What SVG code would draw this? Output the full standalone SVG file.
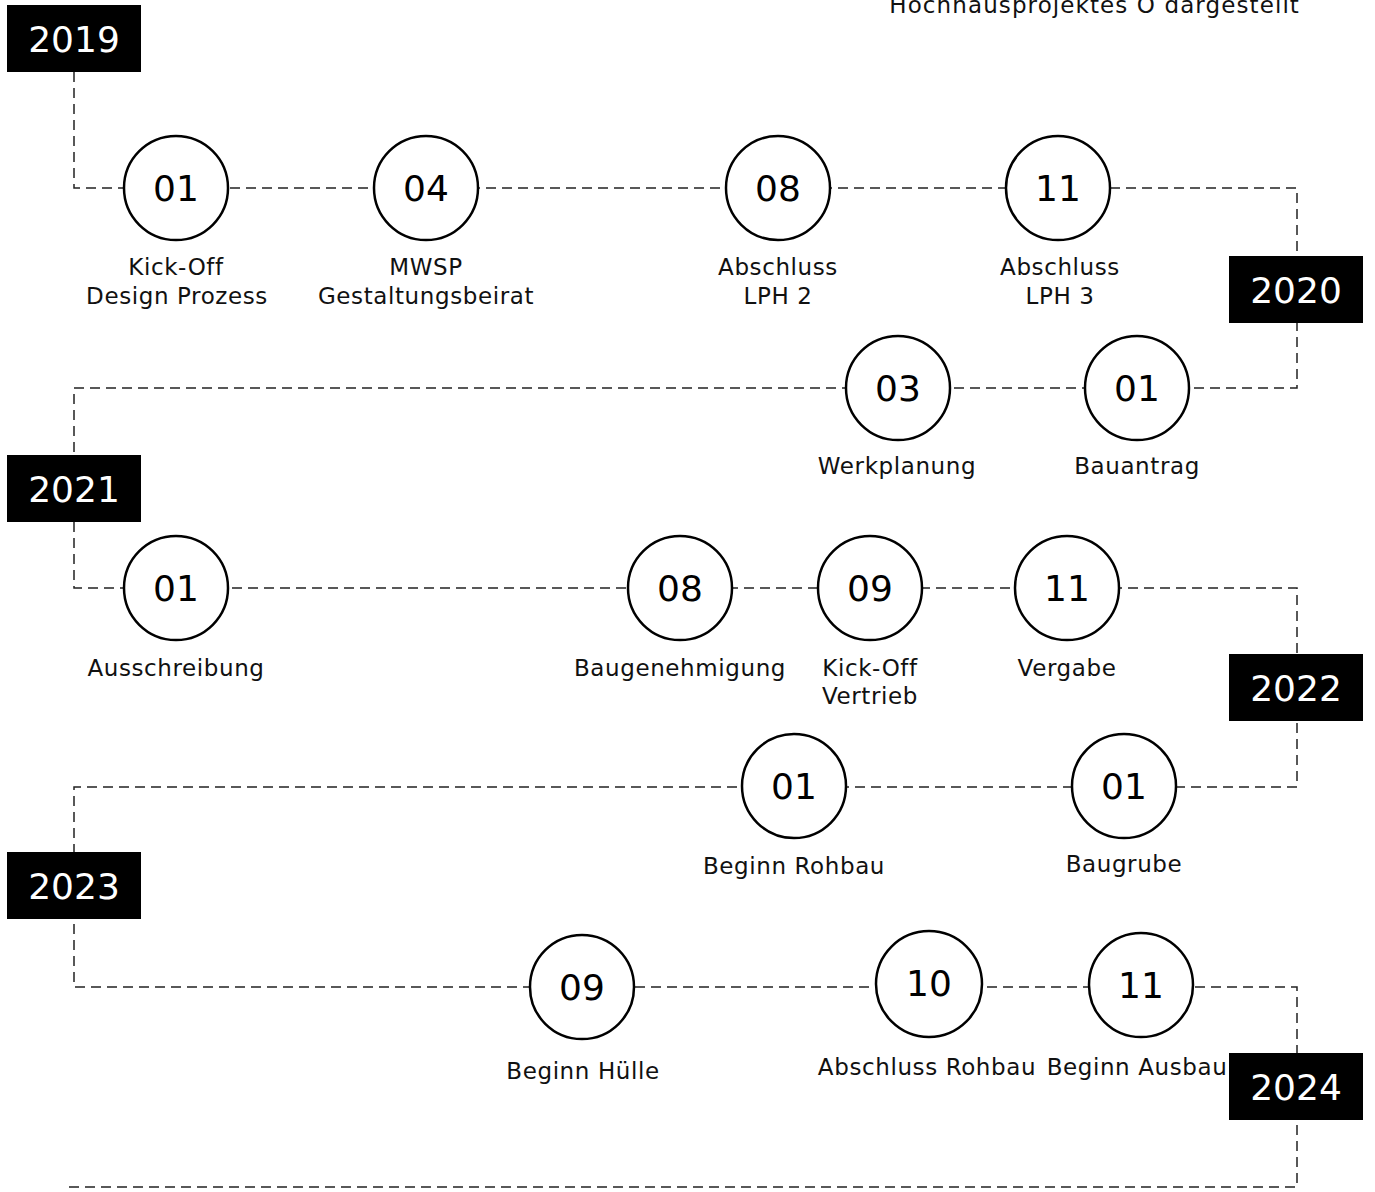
<svg xmlns="http://www.w3.org/2000/svg" width="1375" height="1192" viewBox="0 0 1375 1192">
<style>
.conn{fill:none;stroke:#222;stroke-width:1.5;stroke-dasharray:10 6}
.yr rect{fill:#000}
.yr text{fill:#fff;font-family:"DejaVu Sans",Verdana,sans-serif;font-size:36px;text-anchor:middle}
.ev circle{fill:#fff;stroke:#000;stroke-width:2.5}
.num{fill:#000;font-family:"DejaVu Sans",Verdana,sans-serif;font-size:36px;text-anchor:middle}
.lbl{fill:#111;font-family:"DejaVu Sans",Verdana,sans-serif;font-size:23px;letter-spacing:0.6px;text-anchor:middle}
</style>
<rect width="1375" height="1192" fill="#fff"/>
<text class="lbl" x="1300" y="13" style="text-anchor:end;letter-spacing:1.1px">Hochhausprojektes O dargestellt</text>
<g id="connectors">
<path class="conn" d="M74 72 V188 H1297 V388 H74 V588 H1297 V787 H74 V987 H1297 V1187 H68"/>
</g>
<g id="y2019" class="yr"><rect x="7" y="5" width="134" height="67"/><text x="74" y="52">2019</text></g>
<g id="y2020" class="yr"><rect x="1229" y="256" width="134" height="67"/><text x="1296" y="303">2020</text></g>
<g id="y2021" class="yr"><rect x="7" y="455" width="134" height="67"/><text x="74" y="502">2021</text></g>
<g id="y2022" class="yr"><rect x="1229" y="654" width="134" height="67"/><text x="1296" y="701">2022</text></g>
<g id="y2023" class="yr"><rect x="7" y="852" width="134" height="67"/><text x="74" y="899">2023</text></g>
<g id="y2024" class="yr"><rect x="1229" y="1053" width="134" height="67"/><text x="1296" y="1100">2024</text></g>

<g id="e2019-01" class="ev"><circle cx="176" cy="188" r="52"/><text class="num" x="176" y="201">01</text><text class="lbl" x="176" y="275">Kick-Off</text><text class="lbl" x="177" y="304">Design Prozess</text></g>
<g id="e2019-04" class="ev"><circle cx="426" cy="188" r="52"/><text class="num" x="426" y="201">04</text><text class="lbl" x="426" y="275">MWSP</text><text class="lbl" x="426" y="304">Gestaltungsbeirat</text></g>
<g id="e2019-08" class="ev"><circle cx="778" cy="188" r="52"/><text class="num" x="778" y="201">08</text><text class="lbl" x="778" y="275">Abschluss</text><text class="lbl" x="778" y="304">LPH 2</text></g>
<g id="e2019-11" class="ev"><circle cx="1058" cy="188" r="52"/><text class="num" x="1058" y="201">11</text><text class="lbl" x="1060" y="275">Abschluss</text><text class="lbl" x="1060" y="304">LPH 3</text></g>

<g id="e2020-03" class="ev"><circle cx="898" cy="388" r="52"/><text class="num" x="898" y="401">03</text><text class="lbl" x="897" y="474">Werkplanung</text></g>
<g id="e2020-01" class="ev"><circle cx="1137" cy="388" r="52"/><text class="num" x="1137" y="401">01</text><text class="lbl" x="1137" y="474">Bauantrag</text></g>

<g id="e2021-01" class="ev"><circle cx="176" cy="588" r="52"/><text class="num" x="176" y="601">01</text><text class="lbl" x="176" y="676">Ausschreibung</text></g>
<g id="e2021-08" class="ev"><circle cx="680" cy="588" r="52"/><text class="num" x="680" y="601">08</text><text class="lbl" x="680" y="676">Baugenehmigung</text></g>
<g id="e2021-09" class="ev"><circle cx="870" cy="588" r="52"/><text class="num" x="870" y="601">09</text><text class="lbl" x="870" y="676">Kick-Off</text><text class="lbl" x="870" y="704">Vertrieb</text></g>
<g id="e2021-11" class="ev"><circle cx="1067" cy="588" r="52"/><text class="num" x="1067" y="601">11</text><text class="lbl" x="1067" y="676">Vergabe</text></g>

<g id="e2022-01a" class="ev"><circle cx="794" cy="786" r="52"/><text class="num" x="794" y="799">01</text><text class="lbl" x="794" y="874">Beginn Rohbau</text></g>
<g id="e2022-01b" class="ev"><circle cx="1124" cy="786" r="52"/><text class="num" x="1124" y="799">01</text><text class="lbl" x="1124" y="872">Baugrube</text></g>

<g id="e2023-09" class="ev"><circle cx="582" cy="987" r="52"/><text class="num" x="582" y="1000">09</text><text class="lbl" x="583" y="1079">Beginn Hülle</text></g>
<g id="e2023-10" class="ev"><circle cx="929" cy="984" r="53"/><text class="num" x="929" y="996">10</text><text class="lbl" x="927" y="1075">Abschluss Rohbau</text></g>
<g id="e2023-11" class="ev"><circle cx="1141" cy="985" r="52"/><text class="num" x="1141" y="998">11</text><text class="lbl" x="1137" y="1075">Beginn Ausbau</text></g>
</svg>
